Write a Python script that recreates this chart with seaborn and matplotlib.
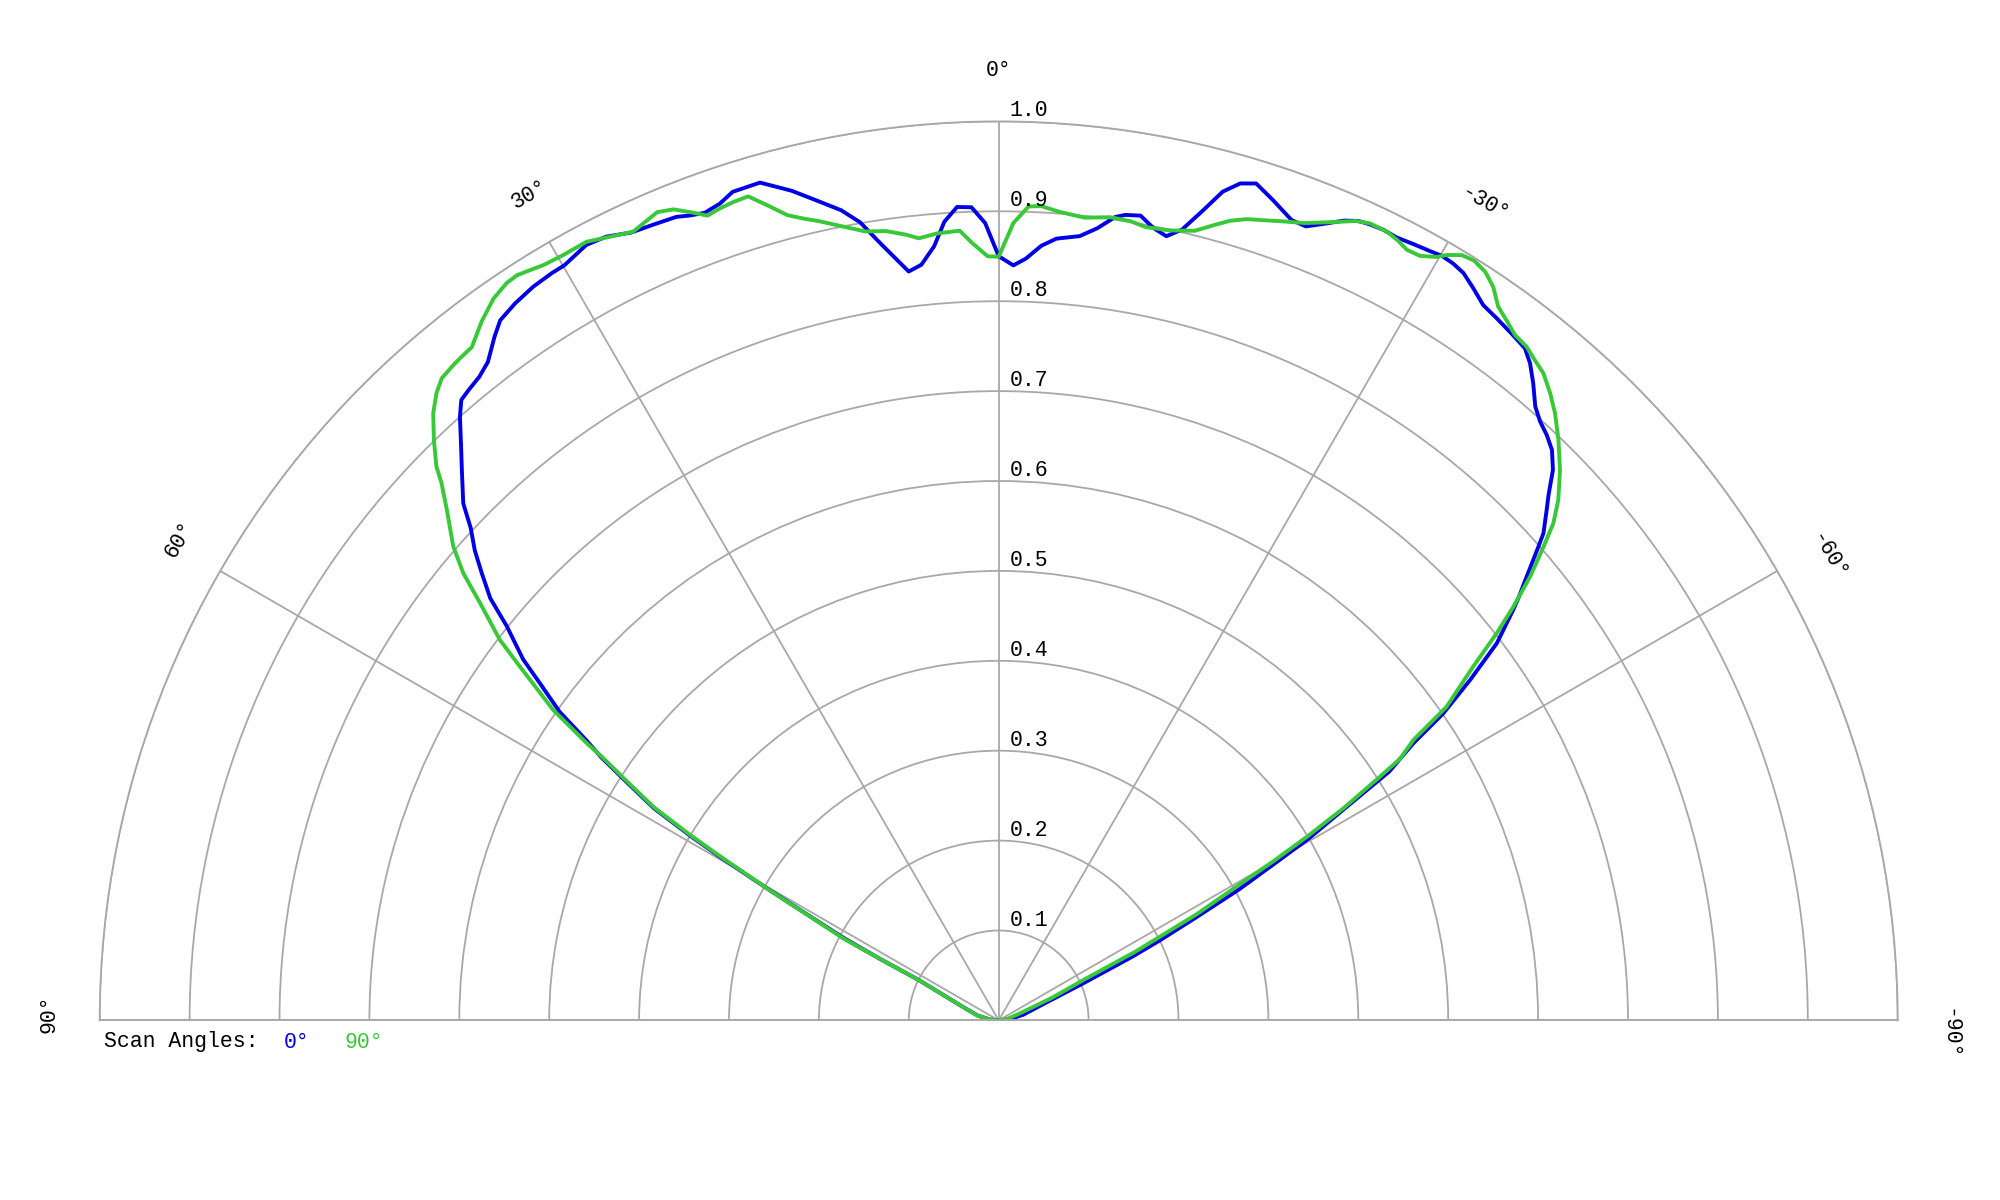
import numpy as np
import pandas as pd
import matplotlib
matplotlib.use("Agg")
import matplotlib.pyplot as plt
import matplotlib.transforms as mtransforms
import seaborn as sns

# ---------------- data (angles in degrees, normalised amplitude) ----------------
blue_theta = [90, 84, 77, 70, 66, 63.2, 62.6, 62.0, 61.2, 60.6,
              60.1, 59.6, 59.1, 58.4, 57.4, 56.5, 55.8, 54.9, 53.7, 52.8,
              51.3, 50.3, 49.15, 48.1, 47.0, 46.0, 44.3, 43.0, 41.75, 40.9,
              40.1, 38.9, 37.8, 36.4, 35.45, 34.0, 32.4, 30.9, 29.9, 28.0,
              26.6, 25.0, 23.5, 21.85, 21.0, 20.0, 18.85, 17.8, 15.9, 14.0,
              12.5, 11.0, 9.85, 8.64, 6.85, 5.84, 4.77, 3.89, 2.93, 1.92,
              0.97, 0.0, -1.11, -2.05, -3.15, -4.23, -5.89, -7.10, -8.25, -8.94,
              -10.0, -11.05, -12.07, -13.05, -14.15, -15.13, -16.1, -17.1, -18.5, -20.1,
              -21.15, -22.2, -23.35, -24.2, -25.0, -25.95, -26.95, -28.1, -29.26, -30.09,
              -30.98, -31.87, -32.96, -34.11, -35.35, -36.9, -38.06, -38.96, -40.0, -41.15,
              -42.12, -43.11, -44.12, -45.19, -46.3, -47.03, -48.19, -48.72, -49.96, -50.9,
              -51.42, -52.87, -54.16, -55.37, -56.24, -57.5, -58.45, -59.6, -60.4, -61.4,
              -62.4, -63.6, -64.5, -66.3, -69, -77, -84, -90]
blue_r = [0.0, 0.010, 0.024, 0.040, 0.062, 0.100, 0.150, 0.195, 0.235, 0.275,
          0.315, 0.360, 0.400, 0.450, 0.490, 0.530, 0.555, 0.597, 0.633, 0.664,
          0.701, 0.735, 0.760, 0.783, 0.803, 0.828, 0.855, 0.877, 0.900, 0.913,
          0.916, 0.920, 0.927, 0.945, 0.956, 0.962, 0.9665, 0.9685, 0.969, 0.977,
          0.975, 0.967, 0.965, 0.963, 0.959, 0.956, 0.960, 0.968, 0.969, 0.951,
          0.934, 0.918, 0.901, 0.874, 0.839, 0.845, 0.864, 0.8905, 0.906, 0.905,
          0.887, 0.850, 0.840, 0.848, 0.863, 0.872, 0.877, 0.888, 0.903, 0.907,
          0.909, 0.898, 0.892, 0.903, 0.929, 0.955, 0.969, 0.974, 0.962, 0.948,
          0.947, 0.957, 0.969, 0.975, 0.977, 0.978, 0.977, 0.979, 0.981, 0.983,
          0.982, 0.979, 0.9705, 0.961, 0.9575, 0.953, 0.9495, 0.940, 0.925, 0.907,
          0.898, 0.892, 0.884, 0.869, 0.846, 0.833, 0.813, 0.799, 0.767, 0.745,
          0.732, 0.695, 0.647, 0.601, 0.555, 0.515, 0.455, 0.400, 0.352, 0.305,
          0.250, 0.200, 0.165, 0.103, 0.060, 0.028, 0.012, 0.0]

green_theta = [90, 84, 77, 70, 66, 63.2, 62.6, 62.2, 61.0, 60.6,
               59.5, 59.0, 58.3, 57.3, 56.4, 56.07, 55.13, 53.54, 52.66, 51.19,
               50.13, 49.0, 47.24, 46.04, 45.43, 44.21, 42.96, 41.87, 40.94, 39.92,
               39.13, 38.04, 36.5, 34.99, 33.72, 32.89, 31.99, 31.09, 29.63, 27.9,
               26.6, 24.86, 22.9, 21.85, 20.71, 19.9, 18.94, 17.96, 16.91, 15.74,
               14.7, 13.69, 12.64, 10.97, 9.59, 8.15, 6.72, 5.83, 4.50, 2.83,
               1.94, 0.82, 0.0, -1.05, -2.10, -2.99, -4.28, -6.12, -7.90, -9.35,
               -10.5, -12.2, -13.95, -15.2, -16.14, -17.2, -18.3, -19.5, -21.0, -22.5,
               -24.08, -24.97, -26.2, -27.1, -27.91, -28.86, -29.84, -30.34, -31.18, -32.04,
               -33.04, -33.99, -34.99, -35.96, -36.99, -38.09, -39.08, -40.08, -41.32, -42.5,
               -43.96, -45.56, -47.08, -48.13, -49.0, -50.14, -51.21, -52.14, -53.3, -55.0,
               -55.93, -56.9, -57.42, -58.4, -59.2, -59.9, -60.6, -61.8, -62.6, -63.3,
               -64.5, -67, -71.6, -80, -90]
green_r = [0.0, 0.010, 0.024, 0.040, 0.062, 0.100, 0.150, 0.195, 0.250, 0.280,
           0.360, 0.400, 0.450, 0.490, 0.530, 0.552, 0.604, 0.662, 0.698, 0.740,
           0.776, 0.804, 0.836, 0.861, 0.878, 0.901, 0.923, 0.937, 0.9455, 0.948,
           0.9495, 0.951, 0.967, 0.980, 0.986, 0.987, 0.984, 0.981, 0.9795, 0.980,
           0.974, 0.967, 0.976, 0.972, 0.9605, 0.952, 0.955, 0.957, 0.958, 0.941,
           0.926, 0.918, 0.911, 0.899, 0.890, 0.887, 0.880, 0.8745, 0.878, 0.8795,
           0.865, 0.850, 0.8495, 0.887, 0.906, 0.907, 0.902, 0.898, 0.902, 0.901,
           0.8975, 0.899, 0.905, 0.917, 0.926, 0.933, 0.9375, 0.943, 0.950, 0.961,
           0.974, 0.978, 0.978, 0.9745, 0.970, 0.971, 0.979, 0.9865, 0.995, 0.997,
           0.993, 0.984, 0.969, 0.962, 0.9545, 0.952, 0.946, 0.941, 0.929, 0.916,
           0.897, 0.8745, 0.850, 0.8285, 0.803, 0.770, 0.7345, 0.7016, 0.658, 0.608,
           0.557, 0.533, 0.503, 0.450, 0.400, 0.354, 0.305, 0.250, 0.200, 0.170,
           0.104, 0.065, 0.025, 0.010, 0.0]

radial_ticks = [0.1, 0.2, 0.3, 0.4, 0.5, 0.6, 0.7, 0.8, 0.9, 1.0]
radial_labels = ["0.1", "0.2", "0.3", "0.4", "0.5", "0.6", "0.7", "0.8", "0.9", "1.0"]
angle_ticks = [90, 60, 30, 0, -30, -60, -90]
angle_labels = ["90°", "60°", "30°", "0°", "-30°", "-60°", "-90°"]
series_names = ["0°", "90°"]
legend_title = "Scan Angles:"

# ---------------- style ----------------
sns.set_style("white")
plt.rcParams["font.family"] = ["Liberation Mono", "DejaVu Sans Mono"]
BLUE = "#0000e6"
GREEN = "#38c838"
GRID = "#a8a8a8"
FS = 15.5

W, H = 2000, 1200
fig = plt.figure(figsize=(W / 100, H / 100), dpi=100)
fig.patch.set_facecolor("white")

# polar centre and outer radius in pixels (from top-left); the half wedge is
# centred vertically inside a square axes box of side 2R
cx, cy, R = 998.7, 1020.4, 899.0
left = (cx - R) / W
bottom = (H - cy - R / 2) / H
ax = fig.add_axes([left, bottom, 2 * R / W, 2 * R / H], projection="polar")
ax.patch.set_alpha(0)
ax.set_theta_zero_location("N")
ax.set_theta_direction(1)
ax.set_thetamin(-90)
ax.set_thetamax(90)
ax.set_rlim(0, 1.0)

ax.set_rticks(radial_ticks)
ax.set_yticklabels([])
ax.set_xticks(np.deg2rad(angle_ticks))
ax.set_xticklabels([])
ax.grid(True, color=GRID, linewidth=1.3)
for sp in ax.spines.values():
    sp.set_color(GRID)
    sp.set_linewidth(1.3)

df_blue = pd.DataFrame({"theta": np.deg2rad(blue_theta), "r": blue_r})
df_green = pd.DataFrame({"theta": np.deg2rad(green_theta), "r": green_r})
sns.lineplot(data=df_blue, x="theta", y="r", ax=ax, sort=False, estimator=None,
             color=BLUE, linewidth=2.8, legend=False)
sns.lineplot(data=df_green, x="theta", y="r", ax=ax, sort=False, estimator=None,
             color=GREEN, linewidth=2.8, legend=False)
ax.set_xlabel("")
ax.set_ylabel("")
ax.set_rlim(0, 1.0)

# radial labels along the 0° spoke
off = mtransforms.offset_copy(ax.transData, fig=fig, x=11, y=5, units="dots")
for rv, lab in zip(radial_ticks, radial_labels):
    ax.text(0.0, rv, lab, transform=off, ha="left", va="baseline",
            fontsize=FS, color="black", clip_on=False)

# angle labels outside the outer ring (rotated tangentially)
for a, lab in zip(angle_ticks, angle_labels):
    s = 0 if a == 0 else (7 if a > 0 else 13)
    ddx = s * np.cos(np.deg2rad(a))
    ddy = s * np.sin(np.deg2rad(a))
    tr = mtransforms.offset_copy(ax.transData, fig=fig, x=ddx, y=ddy, units="dots")
    ax.text(np.deg2rad(a), 1.045, lab, transform=tr, rotation=a, rotation_mode="anchor",
            ha="center", va="bottom", fontsize=FS, color="black", clip_on=False)

# legend line
ly = 1 - 1042 / H
fig.text(104 / W, ly, legend_title, ha="left", va="center", fontsize=FS, color="black")
fig.text(284 / W, ly, series_names[0], ha="left", va="center", fontsize=FS, color=BLUE)
fig.text(344 / W, ly, series_names[1], ha="left", va="center", fontsize=FS, color=GREEN)

fig.savefig("out.png", dpi=100, facecolor="white")
